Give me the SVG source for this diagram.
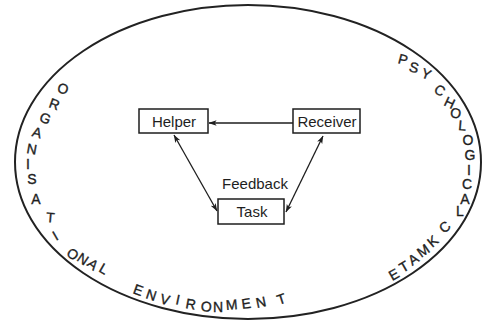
<svg xmlns="http://www.w3.org/2000/svg" width="486" height="323" viewBox="0 0 486 323">
  <style>
    .box { fill: #ffffff; stroke: #1e1e1e; stroke-width: 1.5; }
    .lbl { font-family: "Liberation Sans", Arial, sans-serif; font-size: 15px; fill: #1e1e1e; text-anchor: middle; }
    .arc { font-family: "Liberation Sans", Arial, sans-serif; font-size: 14px; fill: #1e1e1e; stroke: #1e1e1e; stroke-width: 0.35; text-anchor: middle; dominant-baseline: central; }
    .conn { stroke: #1e1e1e; stroke-width: 1.3; fill: none; }
  </style>
  <defs>
    <marker id="ah" viewBox="0 0 10 8" refX="9.5" refY="4" markerWidth="8" markerHeight="6.4" markerUnits="userSpaceOnUse" orient="auto-start-reverse">
      <path d="M0,0.5 L10,4 L0,7.5 L2.5,4 Z" fill="#1e1e1e"/>
    </marker>
  </defs>
  <rect width="486" height="323" fill="#ffffff"/>

  <g id="environment">
    <ellipse cx="248" cy="162" rx="233" ry="157" fill="none" stroke="#222222" stroke-width="2"/>
    <text class="arc" x="62 53 44 36 31 28 32 36 50 58 71 81 91 102" y="87 102 116 131 148 164 179 199 217 236 250 255 260 266" rotate="15 20 20 15 10 0 0 0 5 -30 35 35 40 30">ORGANISATIONAL</text>
    <text class="arc" x="137 150 164 177 190 206 218 232 247 262 283" y="288 293 298 299 303 306 307 305 304 303 300" rotate="20 18 15 12 10 5 0 -5 -8 -12 -18">ENVIRONMENT</text>
    <text class="arc" x="402 413 425 438 448 455 462 468 470 469 467 465 460" y="58 66 72 87 100 112 125 140 155 170 184 199 211" rotate="15 15 20 30 25 10 5 0 0 0 0 0 0">PSYCHOLOGICAL</text>
    <text class="arc" x="397 407 417 427 437 449" y="276 268 261 253 243 229" rotate="-30 -30 -35 -35 -40 -40">ETAMKC</text>
  </g>

  <g id="connectors">
    <line class="conn" x1="293" y1="123" x2="209" y2="123" marker-end="url(#ah)"/>
    <line class="conn" x1="174" y1="135" x2="217" y2="211" marker-start="url(#ah)" marker-end="url(#ah)"/>
    <line class="conn" x1="323" y1="136" x2="286" y2="212" marker-start="url(#ah)" marker-end="url(#ah)"/>
  </g>

  <g id="helper">
    <rect class="box" x="139" y="109" width="69" height="24"/>
    <text class="lbl" x="174" y="127">Helper</text>
  </g>
  <g id="receiver">
    <rect class="box" x="293" y="109" width="67" height="24"/>
    <text class="lbl" x="327" y="127">Receiver</text>
  </g>
  <g id="task">
    <rect class="box" x="218" y="199" width="66" height="25"/>
    <text class="lbl" x="252" y="217">Task</text>
  </g>
  <g id="feedback">
    <text class="lbl" x="255" y="189">Feedback</text>
  </g>
</svg>
